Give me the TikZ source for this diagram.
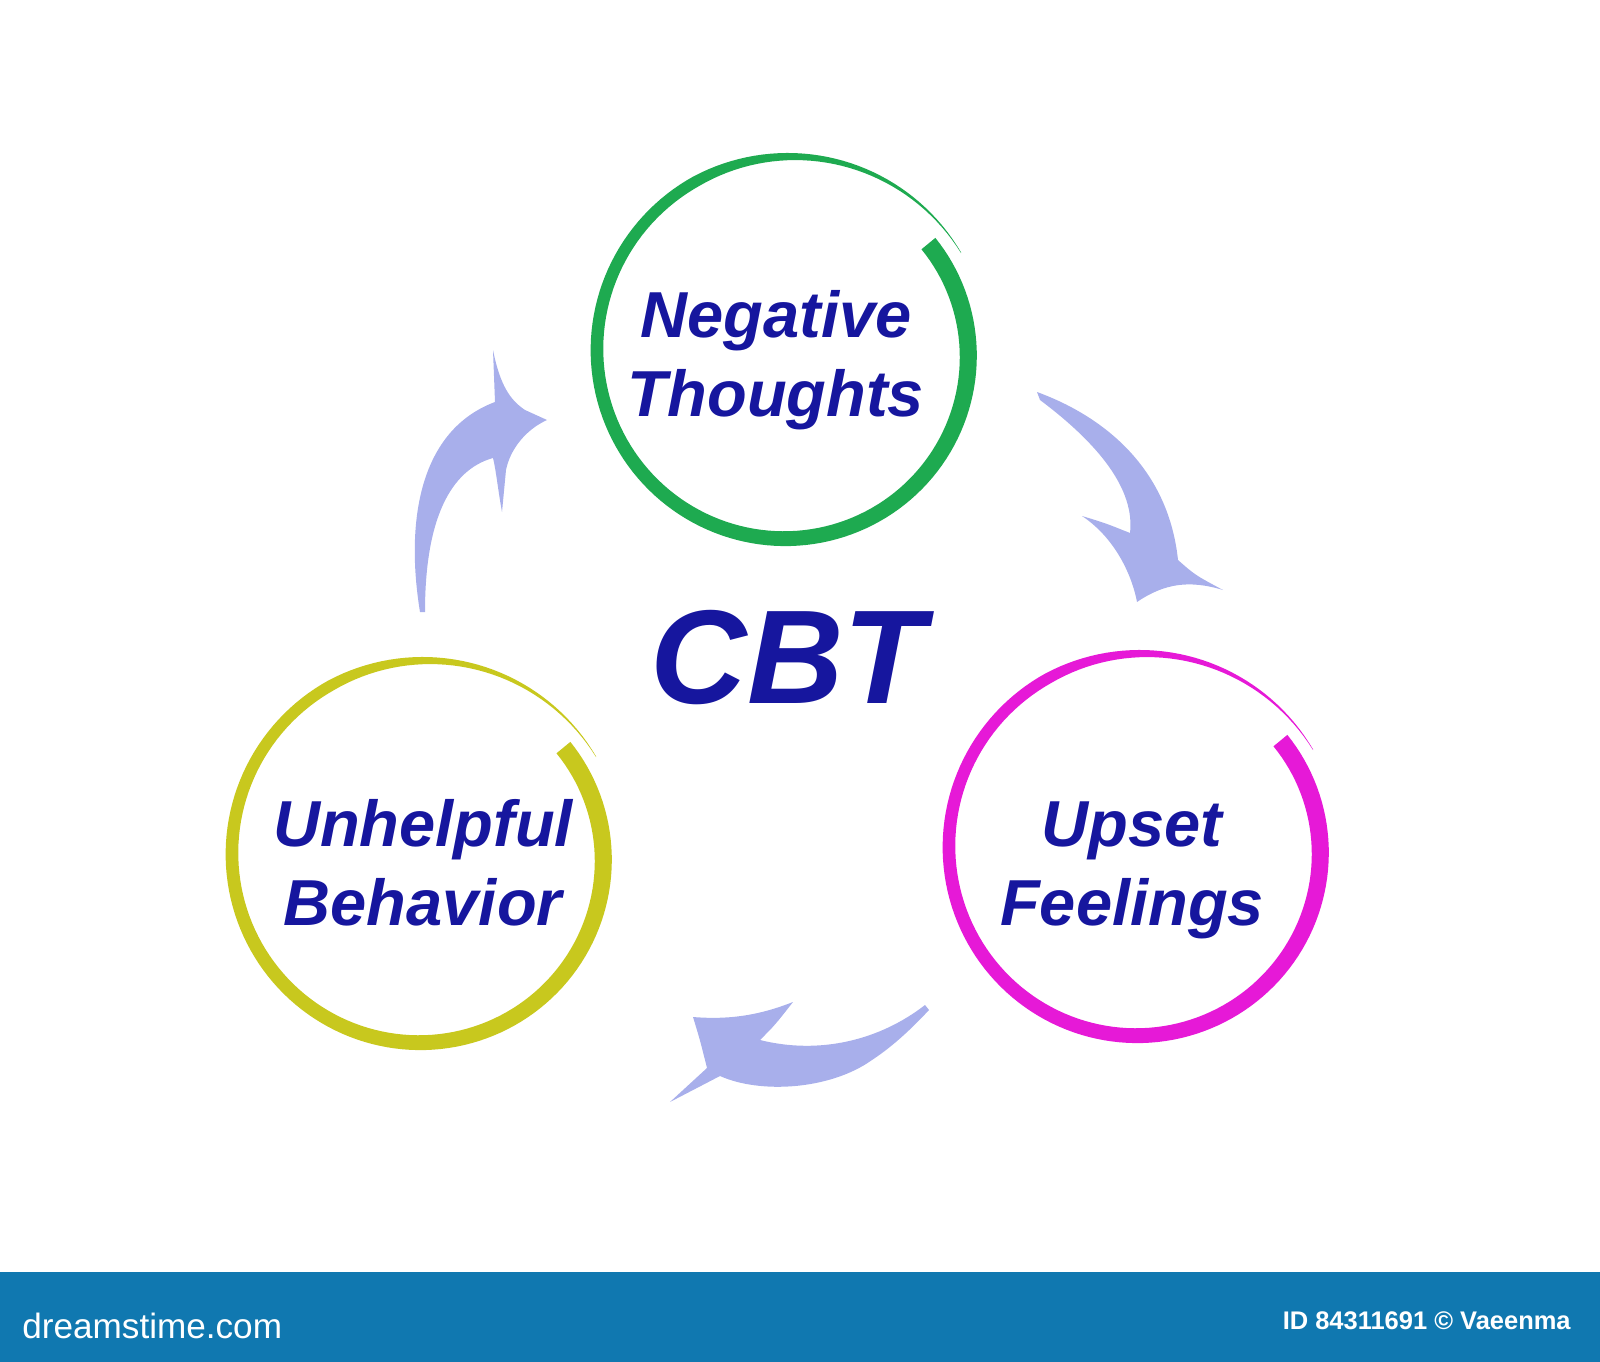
\documentclass[tikz,border=0pt]{standalone}
\usepackage{fontspec}
\setmainfont{Liberation Sans}
\usetikzlibrary{positioning}
\definecolor{cbtblue}{RGB}{22,22,158}
\definecolor{ringgreen}{RGB}{30,170,80}
\definecolor{ringyellow}{RGB}{200,200,30}
\definecolor{ringpink}{RGB}{230,25,215}
\definecolor{arrowblue}{RGB}{168,175,235}
\definecolor{barblue}{RGB}{16,120,176}

% #1 node, #2 colour, #3 offset of the ring centre from the node
\newcommand{\brushring}[3]{%
  \fill[#2, shift={(#1.center)}, shift={(#3)}]
    plot[domain=0:1, samples=160, variable=\t]
      ({(rr(\t)+ww(\t)/2)*cos(aa(\t))}, {-(rr(\t)+ww(\t)/2)*sin(aa(\t))})
    -- plot[domain=1:0, samples=160, variable=\t]
      ({(rr(\t)-ww(\t)/2)*cos(aa(\t))}, {-(rr(\t)-ww(\t)/2)*sin(aa(\t))})
    -- cycle;}

\begin{document}
\begin{tikzpicture}[x=0.02cm, y=-0.02cm,
  declare function={rr(\s)=178+22*\s; ww(\s)=(18-9*\s)*min(1,(1.01-\s)*4); aa(\s)=38-368*\s;},
  ring/.style={align=center, inner sep=0pt, text=cbtblue,
    font=\fontsize{37}{45}\selectfont\bfseries\itshape},
  cyclearrow/.style={fill=arrowblue}]
\useasboundingbox (0,0) rectangle (1600,1362);

\node[ring] (thoughts) at (776,360) {Negative\\Thoughts};
\node[ring] (feelings) at (1132,870) {Upset\\Feelings};
\node[ring] (behavior) at (423,863) {Unhelpful\\Behavior};
\node[text=cbtblue, inner sep=0pt, font=\fontsize{76}{90}\selectfont\bfseries\itshape] (cbt) at (788,658) {CBT};

\brushring{thoughts}{ringgreen}{12,-7}
\brushring{feelings}{ringpink}{8,-20}
\brushring{behavior}{ringyellow}{0,-6}

% behavior -> thoughts
\fill[cyclearrow] (420,612) .. controls (405,520) and (420,430) .. (495,402)
  -- (493,350) .. controls (500,385) and (510,400) .. (525,410) -- (547,420)
  .. controls (525,430) and (510,450) .. (506,470) -- (502,512)
  .. controls (498,490) and (496,470) .. (493,458)
  .. controls (450,470) and (425,520) .. (425,612) -- cycle;
% thoughts -> feelings
\fill[cyclearrow] (1037,392) .. controls (1100,415) and (1168,465) .. (1178,560)
  .. controls (1195,575) .. (1223,590)
  .. controls (1190,580) and (1165,583) .. (1137,602)
  .. controls (1133,580) and (1118,540) .. (1082,516)
  .. controls (1105,523) .. (1130,533)
  .. controls (1135,490) and (1100,445) .. (1040,400) -- cycle;
% feelings -> behavior
\fill[cyclearrow] (925,1005) .. controls (880,1040) and (820,1055) .. (760,1040)
  .. controls (775,1025) .. (793,1002)
  .. controls (760,1015) and (730,1020) .. (693,1017)
  .. controls (700,1040) .. (707,1068) -- (670,1102) -- (720,1076)
  .. controls (760,1094) and (830,1090) .. (872,1060)
  .. controls (895,1045) and (915,1025) .. (929,1010) -- cycle;

\fill[barblue] (0,1272) rectangle (1600,1362);
\node[white, inner sep=0pt, anchor=base west, font=\fontsize{20}{24}\selectfont] (stock) at (22,1338) {dreamstime.com};
\node[white, inner sep=0pt, anchor=base east, font=\fontsize{14.5}{17}\selectfont\bfseries] (imageid) at (1571,1329) {ID 84311691 © Vaeenma};
\end{tikzpicture}
\end{document}
